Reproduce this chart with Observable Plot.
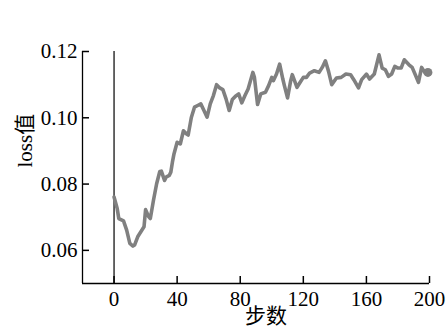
<!DOCTYPE html>
<html><head><meta charset="utf-8">
<script src="https://cdn.jsdelivr.net/npm/d3@7"></script>
<script src="https://cdn.jsdelivr.net/npm/@observablehq/plot@0.6"></script>
<style>
body{margin:0;background:#fff}
svg text{font-family:'Liberation Serif','Times New Roman','Noto Sans CJK SC',serif !important;}
</style>
</head><body><div id="chart"></div>
<script>
const steps = [0,2,3,6,8,10,12,13,15,17,19,20,22,23,25,27,29,30,32,33,35,36,37,38,40,42,44,46,47,49,51,53,55,57,59,61,63,65,67,69,71,73,75,77,79,81,83,85,88,89,91,93,96,98,100,101,103,105,107,108,110,112,113,116,118,120,122,124,127,130,132,134,136,138,141,144,147,150,152,155,157,160,162,165,168,170,172,174,176,178,180,182,184,187,189,191,193,195,197,199];
const loss = [0.0761,0.0726,0.0696,0.0689,0.0661,0.0621,0.0613,0.0616,0.0641,0.0656,0.0671,0.0723,0.0701,0.0696,0.0751,0.0801,0.0838,0.0839,0.0811,0.0821,0.0826,0.0836,0.0866,0.0891,0.0926,0.0921,0.0961,0.0951,0.0948,0.1001,0.1032,0.1037,0.1042,0.1022,0.1002,0.1042,0.1067,0.1100,0.1090,0.1085,0.1057,0.1022,0.1055,0.1065,0.1072,0.1045,0.1067,0.1087,0.1137,0.1122,0.1040,0.1072,0.1077,0.1097,0.1122,0.1112,0.1132,0.1162,0.1117,0.1097,0.1060,0.1112,0.1130,0.1092,0.1107,0.1122,0.1122,0.1135,0.1142,0.1137,0.1152,0.1172,0.1140,0.1100,0.1120,0.1122,0.1132,0.1130,0.1115,0.1090,0.1115,0.1132,0.1117,0.1132,0.1190,0.1150,0.1145,0.1125,0.1132,0.1155,0.1150,0.1150,0.1175,0.1160,0.1152,0.1130,0.1107,0.1152,0.1137,0.1137];
const xTicks = [0, 40, 80, 120, 160, 200];
const yTicks = [0.06, 0.08, 0.10, 0.12];
const xDomain = [-20, 200];
const yDomain = [0.05, 0.12];
const xLabel = "步数";
const yLabel = "loss值";

const data = steps.map((s, i) => ({step: s, loss: loss[i]}));
const last = data[data.length - 1];

const W = 447, H = 331, mL = 82, mR = 18, mT = 51, mB = 48, tick = 7;

const chart = Plot.plot({
  width: W, height: H,
  marginLeft: mL, marginRight: mR, marginTop: mT, marginBottom: mB,
  style: {fontFamily: "'Liberation Serif','Times New Roman','Noto Sans CJK SC',serif", fontSize: "21px", color: "#000", background: "#fff"},
  x: {domain: xDomain},
  y: {domain: yDomain},
  marks: [
    Plot.ruleY([yDomain[0]], {stroke: "#000", strokeWidth: 1.3}),
    Plot.ruleX([xDomain[0]], {stroke: "#000", strokeWidth: 1.3}),
    Plot.ruleX([0], {stroke: "#000", strokeWidth: 1.2}),
    Plot.tickX(xTicks, {x: d => d, insetTop: (H - mT - mB) - tick, stroke: "#000", strokeWidth: 1.5}),
    Plot.tickY(yTicks, {y: d => d, insetRight: (W - mL - mR) - tick, stroke: "#000", strokeWidth: 1.5}),
    Plot.axisX(xTicks, {tickSize: 0, tickPadding: 8, tickFormat: d => d, label: null}),
    Plot.axisY(yTicks, {tickSize: 0, tickPadding: 5, tickFormat: d => d.toFixed(2), label: null}),
    Plot.lineY(data, {x: "step", y: "loss", stroke: "#808080", strokeWidth: 3.6}),
    Plot.dot([last], {x: "step", y: "loss", r: 4.5, fill: "#808080"}),
    Plot.text([xLabel], {text: d => d, frameAnchor: "bottom", dy: 39, dx: 10, fontSize: 21}),
    Plot.text([yLabel], {text: d => d, frameAnchor: "left", rotate: -90, dx: -57, fontSize: 21})
  ]
});
document.getElementById("chart").appendChild(chart);
</script>
</body></html>
